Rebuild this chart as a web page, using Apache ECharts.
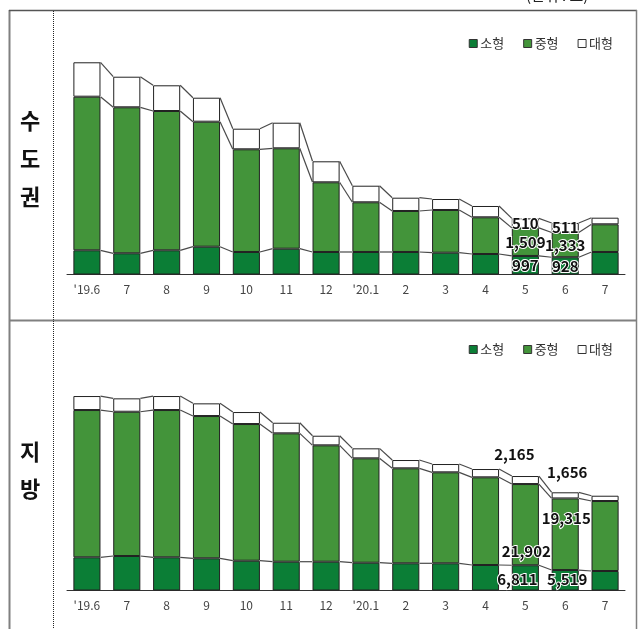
<!DOCTYPE html>
<html>
<head>
<meta charset="utf-8">
<script src="https://cdn.jsdelivr.net/npm/echarts@6/dist/echarts.min.js"></script>
<style>
  html, body { margin: 0; padding: 0; background: #fff; }
  #chart { width: 640px; height: 629px; }
</style>
</head>
<body>
<div id="chart"></div>
<script>
// 월별 미분양 주택 (단위: 호) — 수도권 / 지방, 규모별 누적 막대
const months = ["'19.6", "7", "8", "9", "10", "11", "12", "'20.1", "2", "3", "4", "5", "6", "7"];
const sizeNames = ["소형", "중형", "대형"];

// 수도권
const metroSmall = [1301, 1140, 1301, 1495, 1210, 1387, 1210, 1210, 1210, 1172, 1102, 997, 928, 1210];
const metroMid   = [8258, 7849, 7489, 6720, 5521, 5398, 3747, 2672, 2204, 2296, 1973, 1509, 1333, 1489];
const metroLarge = [1850, 1645, 1382, 1290, 1108, 1376, 1129, 892, 715, 591, 608, 510, 511, 355];

// 지방
const localSmall = [8953, 9304, 8953, 8684, 8037, 7767, 7767, 7497, 7335, 7335, 6877, 6811, 5519, 5259];
const localMid   = [39725, 38916, 39725, 38376, 36866, 34628, 31392, 28156, 25621, 24542, 23652, 21902, 19315, 18878];
const localLarge = [3776, 3614, 3776, 3425, 3236, 2859, 2589, 2697, 2238, 2238, 2238, 2165, 1656, 1429];

// 값 표시할 월 (인덱스)
const labeledMonths = [11, 12];

const COLORS = ['#0b7e36', '#43943a', '#ffffff'];
const BAR_RATIO = 0.68;
const FONT = '"Noto Sans CJK KR", "Noto Sans", sans-serif';

const fmt = v => v.toLocaleString('en-US');

const baseLabel = {
  show: true,
  fontFamily: FONT,
  fontWeight: 'bold',
  fontSize: 15,
  color: '#111',
  textBorderColor: '#fff',
  textBorderWidth: 2,
  formatter: p => fmt(p.value)
};

// 지방 라벨 위치 조정 (series 순서: 소형, 중형, 대형)
const localLabelPos = [
  { 11: { position: 'inside', offset: [-8, 1] },  12: { position: 'inside', offset: [2, -1] } },
  { 11: { position: 'inside', offset: [1, 27] },  12: { position: 'inside', offset: [1, -16] } },
  { 11: { position: 'top', offset: [-11, -9] },   12: { position: 'top', offset: [2, -8] } }
];

function barData(values, posMap) {
  return values.map((v, i) => {
    if (labeledMonths.indexOf(i) < 0) return v;
    const pos = posMap ? posMap[i] : { position: 'inside' };
    return { value: v, label: Object.assign({}, baseLabel, pos) };
  });
}

function barSeries(arrays, axisIdx, stack, posMaps) {
  return arrays.map((arr, k) => ({
    type: 'bar',
    name: sizeNames[k],
    stack: stack,
    xAxisIndex: axisIdx,
    yAxisIndex: axisIdx,
    barWidth: (BAR_RATIO * 100) + '%',
    itemStyle: { color: COLORS[k], borderColor: '#222', borderWidth: 1 },
    label: { show: false },
    emphasis: { disabled: true },
    data: barData(arr, posMaps ? posMaps[k] : null),
    z: 2
  }));
}

// 막대 사이 연결선 (각 누적 구간의 윗변을 이어줌)
function connectorSeries(arrays, axisIdx) {
  const n = arrays[0].length;
  const cum = [];
  let run = new Array(n).fill(0);
  arrays.forEach(arr => {
    run = run.map((r, i) => r + arr[i]);
    cum.push(run.slice());
  });
  const data = [];
  for (let i = 0; i < n - 1; i++) {
    data.push([i, cum[0][i], cum[0][i + 1], cum[1][i], cum[1][i + 1], cum[2][i], cum[2][i + 1]]);
  }
  return {
    type: 'custom',
    xAxisIndex: axisIdx,
    yAxisIndex: axisIdx,
    silent: true,
    z: 3,
    encode: { x: 0, y: [1, 2, 3, 4, 5, 6] },
    data: data,
    renderItem: (params, api) => {
      const i = api.value(0);
      const half = api.size([1, 0])[0] * BAR_RATIO / 2;
      const children = [];
      for (let k = 0; k < 3; k++) {
        const p1 = api.coord([i, api.value(1 + 2 * k)]);
        const p2 = api.coord([i + 1, api.value(2 + 2 * k)]);
        children.push({
          type: 'line',
          shape: { x1: p1[0] + half, y1: p1[1], x2: p2[0] - half, y2: p2[1] },
          style: { stroke: '#4a4a4a', lineWidth: 1.2 }
        });
      }
      return { type: 'group', children: children };
    }
  };
}

function xAxisCfg(gridIndex) {
  return {
    type: 'category',
    gridIndex: gridIndex,
    data: months,
    axisLine: { lineStyle: { color: '#333', width: 1 } },
    axisTick: { inside: true, length: 4, lineStyle: { color: '#333' } },
    axisLabel: { color: '#444', fontFamily: FONT, fontSize: 12, margin: 9, interval: 0 }
  };
}

function yAxisCfg(gridIndex, max) {
  return { type: 'value', gridIndex: gridIndex, min: 0, max: max, show: false, splitLine: { show: false } };
}

function legendCfg(top) {
  return {
    data: sizeNames,
    top: top,
    right: 22,
    itemWidth: 8,
    itemHeight: 8,
    itemGap: 19,
    icon: 'rect',
    selectedMode: false,
    itemStyle: { borderColor: '#333', borderWidth: 1 },
    textStyle: { fontFamily: FONT, fontSize: 13, color: '#333', padding: [0, 0, 0, -2] }
  };
}

function vtitle(chars, x, ys) {
  return chars.map((c, i) => ({
    type: 'text',
    left: x - 11,
    top: ys[i] - 12,
    style: { text: c, font: 'bold 22px ' + FONT, fill: '#111' }
  }));
}

const graphic = [
  { type: 'line', shape: { x1: 9.5, y1: 10, x2: 9.5, y2: 629 }, style: { stroke: '#808080', lineWidth: 2 } },
  { type: 'line', shape: { x1: 9, y1: 10.5, x2: 637, y2: 10.5 }, style: { stroke: '#555', lineWidth: 1.5 } },
  { type: 'line', shape: { x1: 636.5, y1: 10, x2: 636.5, y2: 629 }, style: { stroke: '#808080', lineWidth: 1.5 } },
  { type: 'line', shape: { x1: 9, y1: 320.5, x2: 637, y2: 320.5 }, style: { stroke: '#808080', lineWidth: 2 } },
  { type: 'line', shape: { x1: 53.5, y1: 11, x2: 53.5, y2: 629 }, style: { stroke: '#222', lineWidth: 1, lineDash: [1, 1] } },
  { type: 'text', left: 526, top: -12, style: { text: '(단위 : 호)', font: '15px ' + FONT, fill: '#222' } }
].concat(
  vtitle(['수', '도', '권'], 31, [122, 160, 198]),
  vtitle(['지', '방'], 31, [453, 490])
);

const chart = echarts.init(document.getElementById('chart'), null, { renderer: 'canvas' });
chart.setOption({
  animation: false,
  backgroundColor: '#fff',
  legend: [legendCfg(32), legendCfg(338)],
  grid: [
    { left: 67, right: 15, top: 51.3, bottom: 354.5 },
    { left: 67, right: 15, top: 382.9, bottom: 38.5 }
  ],
  xAxis: [xAxisCfg(0), xAxisCfg(1)],
  yAxis: [yAxisCfg(0, 12000), yAxisCfg(1, 56000)],
  graphic: graphic,
  series: []
    .concat(barSeries([metroSmall, metroMid, metroLarge], 0, 'metro', null))
    .concat(barSeries([localSmall, localMid, localLarge], 1, 'local', localLabelPos))
    .concat([connectorSeries([metroSmall, metroMid, metroLarge], 0),
             connectorSeries([localSmall, localMid, localLarge], 1)])
});
</script>
</body>
</html>
